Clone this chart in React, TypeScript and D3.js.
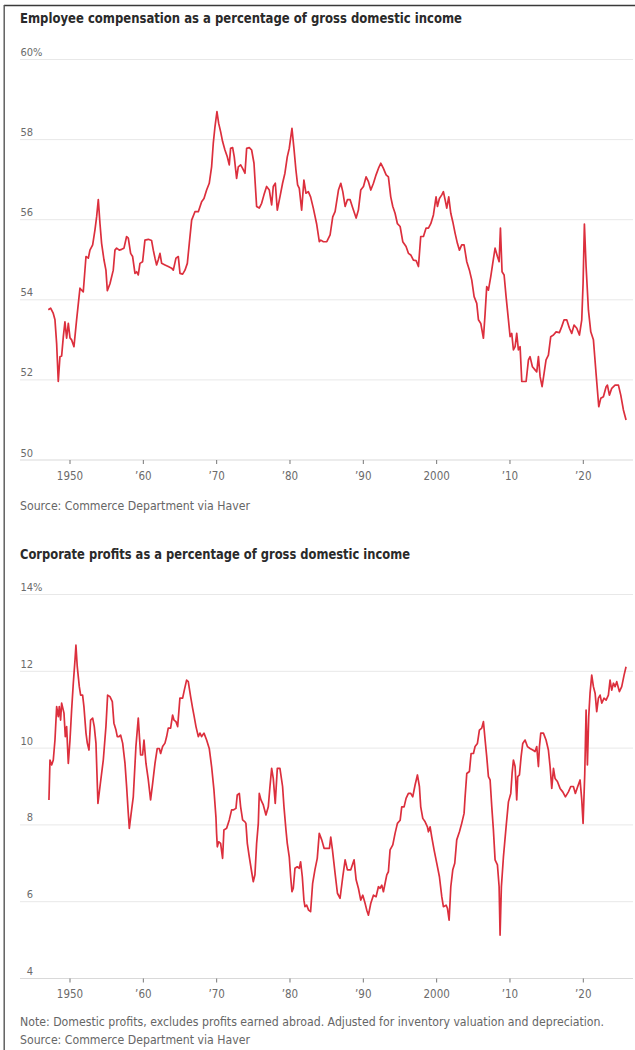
import React from 'react';
import * as d3 from 'd3';

// Employee compensation, % of gross domestic income: [decimal year, value]
const compensation: [number, number][] = [
  [1947.04, 53.75], [1947.36, 53.79], [1947.72, 53.66], [1947.95, 53.5], [1948.18, 52.9], [1948.4, 51.96],
  [1948.63, 52.58], [1948.86, 52.6], [1949.09, 53.08], [1949.31, 53.45], [1949.54, 53.04], [1949.77, 53.41],
  [1950.0, 53.05], [1950.22, 53.0], [1950.54, 52.83], [1950.9, 53.5], [1951.36, 54.29], [1951.59, 54.24],
  [1951.81, 54.2], [1952.18, 55.08], [1952.5, 55.04], [1952.72, 55.24], [1953.09, 55.37], [1953.4, 55.74],
  [1953.63, 56.07], [1953.86, 56.5], [1954.09, 55.9], [1954.31, 55.41], [1954.63, 55.0], [1954.9, 54.74],
  [1955.09, 54.23], [1955.45, 54.4], [1955.9, 54.74], [1956.13, 55.24], [1956.36, 55.29], [1956.72, 55.24],
  [1957.04, 55.26], [1957.36, 55.29], [1957.72, 55.58], [1957.95, 55.54], [1958.27, 55.16], [1958.54, 55.08],
  [1958.86, 54.66], [1959.09, 54.7], [1959.31, 54.62], [1959.54, 54.91], [1959.9, 54.95], [1960.22, 55.49],
  [1960.68, 55.51], [1961.13, 55.48], [1961.36, 55.24], [1961.59, 55.04], [1961.81, 54.87], [1962.04, 55.0],
  [1962.27, 55.16], [1962.5, 54.91], [1962.95, 54.87], [1963.4, 54.83], [1963.86, 54.79], [1964.09, 54.74],
  [1964.45, 55.04], [1964.77, 55.08], [1965.0, 54.66], [1965.36, 54.64], [1965.68, 54.74], [1966.0, 54.91],
  [1966.27, 55.41], [1966.59, 55.99], [1967.04, 56.2], [1967.5, 56.2], [1967.95, 56.45], [1968.27, 56.53],
  [1968.63, 56.74], [1968.99, 56.91], [1969.31, 57.32], [1969.54, 57.91], [1969.77, 58.32], [1970.04, 58.7],
  [1970.27, 58.41], [1970.54, 58.2], [1970.81, 57.95], [1971.13, 57.74], [1971.45, 57.57], [1971.72, 57.37],
  [1971.9, 57.78], [1972.18, 57.8], [1972.4, 57.57], [1972.72, 57.03], [1972.95, 57.32], [1973.27, 57.37],
  [1973.54, 57.28], [1973.86, 57.16], [1974.09, 57.78], [1974.45, 57.8], [1974.77, 57.74], [1975.09, 57.41],
  [1975.45, 56.33], [1975.81, 56.29], [1976.13, 56.41], [1976.45, 56.62], [1976.81, 56.83], [1977.18, 56.74],
  [1977.5, 56.37], [1977.72, 56.83], [1978.0, 56.91], [1978.27, 56.24], [1978.63, 56.57], [1978.99, 56.91],
  [1979.31, 57.16], [1979.63, 57.57], [1979.9, 57.78], [1980.27, 58.28], [1980.54, 57.78], [1980.81, 57.24],
  [1981.04, 56.87], [1981.27, 56.78], [1981.59, 56.24], [1981.9, 56.99], [1982.18, 56.66], [1982.5, 56.7],
  [1982.81, 56.57], [1983.18, 56.29], [1983.63, 55.9], [1984.0, 55.45], [1984.2, 55.49], [1984.56, 55.45],
  [1985.02, 55.45], [1985.47, 55.62], [1985.83, 56.07], [1986.15, 56.2], [1986.61, 56.74], [1986.93, 56.91],
  [1987.2, 56.7], [1987.52, 56.33], [1987.83, 56.5], [1988.2, 56.5], [1988.56, 56.29], [1989.02, 56.04],
  [1989.33, 56.24], [1989.65, 56.74], [1990.02, 56.83], [1990.38, 57.07], [1990.7, 56.95], [1991.02, 56.74],
  [1991.38, 56.91], [1991.74, 57.12], [1992.06, 57.28], [1992.38, 57.41], [1992.74, 57.28], [1993.11, 57.12],
  [1993.42, 57.07], [1993.74, 56.57], [1994.02, 56.33], [1994.33, 56.16], [1994.65, 55.9], [1995.02, 55.83],
  [1995.38, 55.45], [1995.83, 55.33], [1996.15, 55.16], [1996.47, 55.12], [1996.83, 54.99], [1997.2, 54.98],
  [1997.52, 54.83], [1997.83, 55.58], [1998.2, 55.58], [1998.56, 55.79], [1998.88, 55.79], [1999.2, 55.9],
  [1999.56, 56.12], [1999.92, 56.57], [2000.11, 56.33], [2000.38, 56.53], [2000.7, 56.62], [2000.92, 56.7],
  [2001.15, 56.5], [2001.38, 56.29], [2001.65, 56.57], [2001.93, 56.16], [2002.2, 55.95], [2002.52, 55.66],
  [2002.83, 55.41], [2003.11, 55.24], [2003.42, 55.37], [2003.74, 55.37], [2004.11, 54.95], [2004.47, 54.74],
  [2004.79, 54.49], [2005.11, 54.08], [2005.47, 53.91], [2005.7, 53.5], [2006.02, 53.41], [2006.38, 53.04],
  [2006.61, 53.66], [2006.83, 54.33], [2007.06, 54.24], [2007.38, 54.58], [2007.65, 54.91], [2007.97, 55.29],
  [2008.29, 55.08], [2008.52, 54.95], [2008.7, 55.79], [2008.92, 54.7], [2009.2, 54.62], [2009.47, 54.08],
  [2009.79, 53.5], [2010.02, 53.08], [2010.24, 53.16], [2010.47, 52.75], [2010.7, 52.83], [2010.92, 53.16],
  [2011.15, 52.75], [2011.38, 52.83], [2011.61, 51.96], [2011.92, 51.96], [2012.2, 51.96], [2012.52, 52.5],
  [2012.74, 52.58], [2013.06, 52.33], [2013.42, 52.25], [2013.65, 52.2], [2013.88, 52.58], [2014.11, 52.08],
  [2014.38, 51.83], [2014.65, 52.16], [2014.92, 52.5], [2015.24, 52.62], [2015.56, 53.08], [2015.93, 53.12],
  [2016.29, 53.2], [2016.74, 53.18], [2017.06, 53.33], [2017.38, 53.5], [2017.74, 53.5], [2018.11, 53.29],
  [2018.42, 53.16], [2018.74, 53.37], [2019.11, 53.29], [2019.47, 53.12], [2019.79, 53.5], [2019.97, 54.41],
  [2020.15, 55.89], [2020.38, 54.83], [2020.7, 53.74], [2021.02, 53.2], [2021.38, 53.0], [2021.74, 52.16],
  [2022.11, 51.33], [2022.38, 51.54], [2022.74, 51.58], [2023.11, 51.83], [2023.29, 51.87], [2023.56, 51.62],
  [2023.88, 51.79], [2024.33, 51.87], [2024.79, 51.87], [2025.11, 51.62], [2025.47, 51.25], [2025.83, 51.0],
];

// Domestic corporate profits, % of gross domestic income: [decimal year, value]
const profits: [number, number][] = [
  [1947.13, 8.65], [1947.27, 9.69], [1947.5, 9.56], [1947.72, 9.69], [1947.95, 10.21], [1948.18, 11.08],
  [1948.4, 10.82], [1948.54, 11.08], [1948.72, 10.73], [1948.86, 11.17], [1949.18, 10.91], [1949.36, 10.3],
  [1949.54, 10.56], [1949.77, 9.6], [1950.0, 10.21], [1950.22, 10.99], [1950.45, 11.69], [1950.68, 12.29],
  [1950.81, 12.68], [1950.99, 12.12], [1951.27, 11.6], [1951.45, 11.38], [1951.72, 11.38], [1951.9, 11.08],
  [1952.18, 10.39], [1952.36, 10.13], [1952.59, 9.95], [1952.81, 10.73], [1953.09, 10.78], [1953.31, 10.56],
  [1953.54, 10.13], [1953.81, 8.56], [1954.09, 9.0], [1954.54, 9.69], [1954.9, 10.56], [1955.13, 11.38],
  [1955.45, 11.34], [1955.77, 11.21], [1955.99, 10.65], [1956.27, 10.47], [1956.45, 10.3], [1956.68, 10.3],
  [1956.9, 10.34], [1957.18, 10.13], [1957.5, 9.6], [1957.72, 9.0], [1957.95, 8.3], [1958.09, 7.91],
  [1958.4, 8.39], [1958.63, 8.73], [1958.99, 10.04], [1959.31, 10.78], [1959.63, 9.82], [1959.9, 9.82],
  [1960.09, 10.21], [1960.36, 9.6], [1960.68, 9.17], [1960.99, 8.65], [1961.27, 9.08], [1961.59, 9.6],
  [1961.9, 9.99], [1962.18, 9.99], [1962.36, 9.86], [1962.63, 10.04], [1962.95, 10.13], [1963.18, 10.3],
  [1963.4, 10.52], [1963.72, 10.52], [1963.99, 10.86], [1964.18, 10.73], [1964.45, 10.69], [1964.68, 10.56],
  [1964.99, 11.3], [1965.36, 11.3], [1965.59, 11.51], [1965.9, 11.77], [1966.13, 11.73], [1966.45, 11.34],
  [1966.72, 11.04], [1966.9, 10.86], [1967.18, 10.56], [1967.5, 10.3], [1967.72, 10.39], [1967.95, 10.3],
  [1968.27, 10.39], [1968.63, 10.21], [1968.99, 9.99], [1969.31, 9.52], [1969.63, 8.91], [1969.9, 8.21],
  [1969.99, 7.78], [1970.09, 7.43], [1970.27, 7.56], [1970.54, 7.52], [1970.81, 7.13], [1970.99, 7.87],
  [1971.36, 7.91], [1971.72, 8.13], [1972.04, 8.39], [1972.27, 8.39], [1972.63, 8.43], [1972.81, 8.78],
  [1973.09, 8.82], [1973.27, 8.47], [1973.54, 8.13], [1973.86, 8.08], [1973.99, 8.04], [1974.18, 7.52],
  [1974.45, 7.17], [1974.77, 6.78], [1974.99, 6.52], [1975.22, 6.7], [1975.45, 7.52], [1975.68, 8.04],
  [1975.81, 8.82], [1976.04, 8.65], [1976.36, 8.52], [1976.72, 8.26], [1977.04, 8.47], [1977.27, 9.0],
  [1977.5, 9.47], [1977.72, 9.21], [1977.99, 8.56], [1978.27, 9.47], [1978.63, 9.47], [1978.99, 9.0],
  [1979.18, 8.47], [1979.45, 7.87], [1979.63, 7.52], [1979.9, 7.17], [1980.09, 6.65], [1980.27, 6.26],
  [1980.45, 6.35], [1980.68, 6.87], [1980.99, 6.91], [1981.27, 6.87], [1981.45, 7.04], [1981.68, 6.65],
  [1981.9, 6.04], [1982.04, 5.87], [1982.27, 5.91], [1982.54, 5.78], [1982.81, 5.74], [1983.09, 6.48],
  [1983.4, 6.83], [1983.72, 7.13], [1983.99, 7.78], [1984.33, 7.61], [1984.65, 7.39], [1985.02, 7.39],
  [1985.38, 7.39], [1985.56, 7.68], [1985.79, 7.35], [1986.15, 6.74], [1986.47, 6.22], [1986.83, 6.09],
  [1987.2, 6.65], [1987.52, 7.09], [1987.83, 6.83], [1988.29, 6.83], [1988.74, 7.09], [1989.02, 6.57],
  [1989.33, 6.35], [1989.65, 6.04], [1989.93, 6.17], [1990.24, 5.96], [1990.47, 5.78], [1990.7, 5.65],
  [1991.02, 5.96], [1991.38, 6.17], [1991.74, 6.13], [1992.06, 6.39], [1992.29, 6.35], [1992.52, 6.43],
  [1992.74, 6.26], [1992.97, 6.48], [1993.2, 6.7], [1993.42, 6.78], [1993.65, 7.35], [1994.02, 7.48],
  [1994.33, 7.78], [1994.65, 8.04], [1995.02, 8.12], [1995.24, 8.47], [1995.56, 8.47], [1995.83, 8.69],
  [1996.15, 8.82], [1996.47, 8.82], [1996.74, 8.73], [1997.06, 9.04], [1997.38, 9.3], [1997.65, 9.0],
  [1997.83, 8.47], [1998.11, 8.17], [1998.43, 8.08], [1998.74, 7.95], [1998.88, 7.82], [1999.11, 7.95],
  [1999.33, 7.69], [1999.65, 7.35], [2000.02, 7.0], [2000.38, 6.65], [2000.7, 6.13], [2000.92, 5.87],
  [2001.29, 5.91], [2001.47, 5.83], [2001.7, 5.52], [2001.93, 6.39], [2002.2, 6.83], [2002.47, 7.0],
  [2002.74, 7.61], [2003.11, 7.82], [2003.42, 8.04], [2003.74, 8.3], [2003.88, 8.73], [2004.11, 9.34],
  [2004.47, 9.39], [2004.7, 9.86], [2005.02, 9.86], [2005.24, 10.04], [2005.56, 10.12], [2005.83, 10.47],
  [2006.15, 10.52], [2006.38, 10.69], [2006.61, 10.21], [2006.83, 9.78], [2007.06, 9.26], [2007.29, 9.17],
  [2007.52, 8.47], [2007.74, 7.87], [2007.97, 7.09], [2008.29, 6.96], [2008.52, 6.39], [2008.65, 5.13],
  [2008.83, 6.39], [2009.11, 7.17], [2009.47, 7.95], [2009.79, 8.6], [2010.11, 8.82], [2010.29, 9.34],
  [2010.47, 9.69], [2010.7, 9.52], [2010.92, 8.65], [2011.06, 9.26], [2011.29, 9.3], [2011.52, 9.78],
  [2011.74, 10.12], [2012.06, 10.21], [2012.38, 10.04], [2012.74, 9.99], [2013.11, 9.95], [2013.42, 9.91],
  [2013.65, 10.04], [2013.88, 9.52], [2014.02, 10.04], [2014.2, 10.39], [2014.56, 10.39], [2014.92, 10.21],
  [2015.24, 9.95], [2015.47, 9.52], [2015.7, 8.95], [2015.93, 9.47], [2016.15, 9.21], [2016.47, 9.13],
  [2016.83, 8.95], [2017.2, 8.86], [2017.56, 8.73], [2017.97, 8.86], [2018.29, 9.0], [2018.65, 9.0],
  [2018.92, 8.82], [2019.24, 9.0], [2019.56, 9.17], [2019.79, 8.65], [2019.97, 8.04], [2020.2, 9.34],
  [2020.38, 10.99], [2020.56, 9.56], [2020.74, 10.82], [2020.92, 11.43], [2021.15, 11.9], [2021.38, 11.6],
  [2021.61, 11.43], [2021.83, 10.95], [2022.06, 11.3], [2022.29, 11.38], [2022.52, 11.17], [2022.83, 11.3],
  [2023.11, 11.25], [2023.42, 11.38], [2023.65, 11.77], [2023.88, 11.51], [2024.11, 11.69], [2024.33, 11.6],
  [2024.56, 11.73], [2024.92, 11.47], [2025.24, 11.6], [2025.56, 11.9], [2025.83, 12.12],
];

const compTicks = [50, 52, 54, 56, 58, 60];
const profitTicks = [4, 6, 8, 10, 12, 14];
const yearTicks = [1950, 1960, 1970, 1980, 1990, 2000, 2010, 2020];
const yearLabels = ['1950', '\u201960', '\u201970', '\u201980', '\u201990', '2000', '\u201910', '\u201920'];

const FONT = "'Liberation Sans Narrow', 'DejaVu Sans Condensed', 'Roboto', sans-serif";
const LINE_RED = '#dc2f3d';

const x = d3.scaleLinear().domain([1950, 2020]).range([70, 583.3]);

type PanelProps = {
  title: string;
  titleWidth: number;
  titleY: number;
  data: [number, number][];
  ticks: number[];
  yTop: number;
  yBottom: number;
};

function Panel({ title, titleWidth, titleY, data, ticks, yTop, yBottom }: PanelProps) {
  const y = d3
    .scaleLinear()
    .domain([ticks[0], ticks[ticks.length - 1]])
    .range([yBottom, yTop]);
  const line = d3
    .line<[number, number]>()
    .x((d) => x(d[0]))
    .y((d) => y(d[1]));
  const maxTick = ticks[ticks.length - 1];

  return (
    <g>
      <text
        x={20}
        y={titleY}
        fontFamily={FONT}
        fontWeight={700}
        fontSize={14.5}
        fill="#2a2a2a"
        textLength={titleWidth}
        lengthAdjust="spacingAndGlyphs"
      >
        {title}
      </text>
      {ticks.map((t) => (
        <g key={t}>
          <line
            x1={20}
            x2={633}
            y1={y(t)}
            y2={y(t)}
            stroke={t === ticks[0] ? '#d9d9d9' : '#e8e8e8'}
            strokeWidth={1}
          />
          <text
            x={33}
            y={y(t) - 3.5}
            textAnchor="end"
            fontFamily={FONT}
            fontSize={11}
            fill="#6b6b6b"
          >
            {t}
          </text>
          {t === maxTick && (
            <text x={33} y={y(t) - 3.5} fontFamily={FONT} fontSize={11} fill="#6b6b6b">
              %
            </text>
          )}
        </g>
      ))}
      {yearTicks.map((yr, i) => (
        <g key={yr}>
          <line x1={x(yr)} x2={x(yr)} y1={yBottom} y2={yBottom + 4} stroke="#777" strokeWidth={1} />
          <text
            x={x(yr)}
            y={yBottom + 19.5}
            textAnchor="middle"
            fontFamily={FONT}
            fontSize={11.5}
            fill="#6b6b6b"
          >
            {yearLabels[i]}
          </text>
        </g>
      ))}
      <path
        d={line(data) ?? ''}
        fill="none"
        stroke={LINE_RED}
        strokeWidth={1.7}
        strokeLinejoin="round"
      />
    </g>
  );
}

export default function App() {
  return (
    <svg
      width={635}
      height={1050}
      viewBox="0 0 635 1050"
      style={{ position: 'absolute', left: 0, top: 0, background: '#fff' }}
    >
      <rect x={0} y={0} width={635} height={1050} fill="#fff" />
      <line x1={4} x2={635} y1={5.5} y2={5.5} stroke="#3a3a3a" strokeWidth={1.6} />
      <line x1={4.2} x2={4.2} y1={5} y2={1050} stroke="#555" strokeWidth={1.4} />

      <Panel
        title="Employee compensation as a percentage of gross domestic income"
        titleWidth={442}
        titleY={23}
        data={compensation}
        ticks={compTicks}
        yTop={59.5}
        yBottom={460}
      />
      <text x={20} y={510} fontFamily={FONT} fontSize={11.5} fill="#666" textLength={230} lengthAdjust="spacingAndGlyphs">
        Source: Commerce Department via Haver
      </text>

      <Panel
        title="Corporate profits as a percentage of gross domestic income"
        titleWidth={390}
        titleY={559}
        data={profits}
        ticks={profitTicks}
        yTop={594.5}
        yBottom={978.5}
      />
      <text x={20} y={1026} fontFamily={FONT} fontSize={11.5} fill="#666" textLength={584} lengthAdjust="spacingAndGlyphs">
        Note: Domestic profits, excludes profits earned abroad. Adjusted for inventory valuation and depreciation.
      </text>
      <text x={20} y={1043.5} fontFamily={FONT} fontSize={11.5} fill="#666" textLength={230} lengthAdjust="spacingAndGlyphs">
        Source: Commerce Department via Haver
      </text>
    </svg>
  );
}
